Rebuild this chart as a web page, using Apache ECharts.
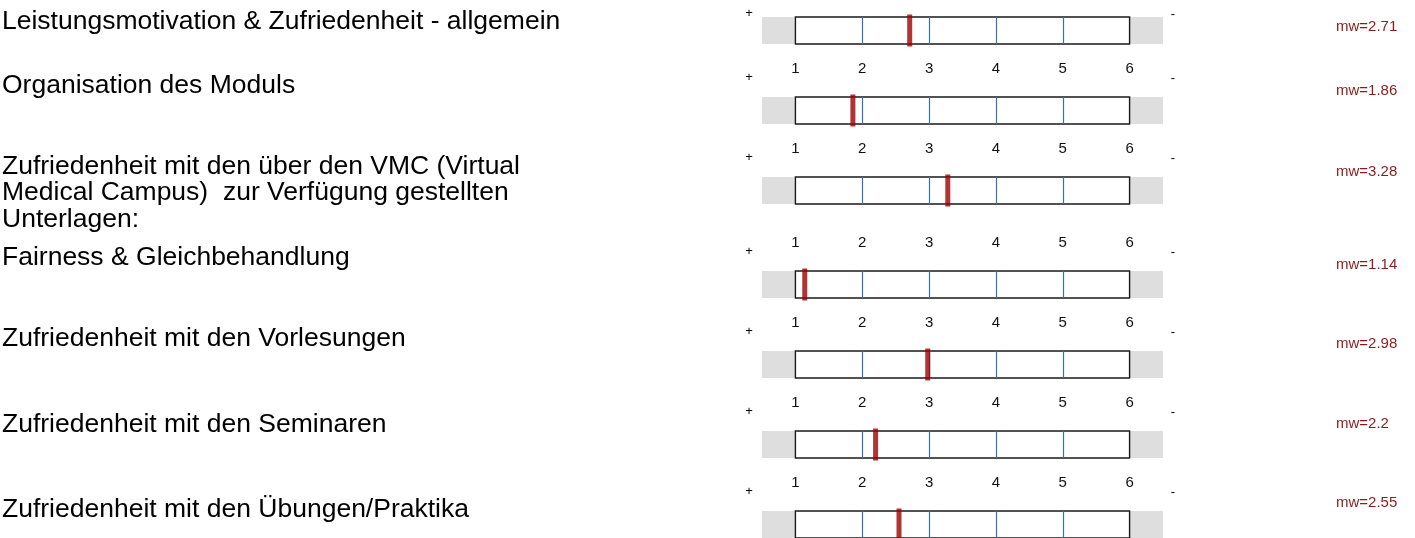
<!DOCTYPE html>
<html>
<head>
<meta charset="utf-8">
<script src="https://cdn.jsdelivr.net/npm/echarts@6/dist/echarts.min.js"></script>
<style>
  html, body { margin: 0; padding: 0; background: #fff; }
  #chart { width: 1415px; height: 538px; }
</style>
</head>
<body>
<div id="chart"></div>
<script>
// Fragen (linke Spalte)
var labels = [
    'Leistungsmotivation & Zufriedenheit - allgemein',
    'Organisation des Moduls',
    'Zufriedenheit mit den über den VMC (Virtual\nMedical Campus)  zur Verfügung gestellten\nUnterlagen:',
    'Fairness & Gleichbehandlung',
    'Zufriedenheit mit den Vorlesungen',
    'Zufriedenheit mit den Seminaren',
    'Zufriedenheit mit den Übungen/Praktika'
];
// Mittelwerte
var means = [2.71, 1.86, 3.28, 1.14, 2.98, 2.2, 2.55];
// Skala
var scaleTicks = [1, 2, 3, 4, 5, 6];
var innerLines = [2, 3, 4, 5];
var poleLeft = '+';
var poleRight = '-';

// Layout
var FONT = '"Liberation Sans", Arial, sans-serif';
var boxTops = [17, 97, 177, 271, 351, 431, 511];
var boxH = 27;
var gridLeft = 762, gridWidth = 401;
var labelMid = [21, 85, 166, 257, 338, 424, 509];
var mwY = [27, 91, 172, 265, 344, 424, 503];

var chart = echarts.init(document.getElementById('chart'));

var grids = [], xAxes = [], yAxes = [], series = [], graphics = [];

means.forEach(function (m, i) {
    grids.push({
        left: gridLeft, width: gridWidth, top: boxTops[i], height: boxH,
        show: true, backgroundColor: '#dedede', borderWidth: 0
    });
    xAxes.push({
        type: 'value', gridIndex: i, min: 0.5, max: 6.5, position: 'top',
        axisLine: {show: false}, axisTick: {show: false}, splitLine: {show: false},
        axisLabel: {
            show: i > 0, customValues: scaleTicks, margin: 21,
            fontSize: 15, color: '#111', fontFamily: FONT
        }
    });
    yAxes.push({type: 'value', gridIndex: i, min: 0, max: 1, show: false});

    // weisse Box + blaue Linien
    series.push({
        type: 'line', xAxisIndex: i, yAxisIndex: i, data: [], z: 1, silent: true,
        markArea: {
            silent: true,
            itemStyle: {color: '#fff', borderColor: '#1a1a1a', borderWidth: 1.4},
            data: [[{xAxis: scaleTicks[0]}, {xAxis: scaleTicks[scaleTicks.length - 1]}]]
        },
        markLine: {
            silent: true, symbol: 'none', animation: false,
            label: {show: false},
            lineStyle: {color: '#3470b4', width: 1.2, type: 'solid'},
            data: innerLines.map(function (v) { return {xAxis: v}; })
        }
    });
    // Mittelwert-Marker
    series.push({
        type: 'scatter', xAxisIndex: i, yAxisIndex: i, z: 5, clip: false, silent: true,
        symbol: 'rect', symbolSize: [5, 32],
        itemStyle: {color: '#9e0000'},
        data: [[m, 0.5]]
    });

    graphics.push({
        type: 'text', left: 2, top: labelMid[i] - 13.25,
        style: {text: labels[i], font: '26.5px ' + FONT, fill: '#000', lineHeight: 26.5}
    });
    graphics.push({
        type: 'text', x: gridLeft - 13, y: boxTops[i] - (i === 0 ? 4 : 20),
        style: {text: poleLeft, font: '13px ' + FONT, fill: '#000', align: 'center', verticalAlign: 'middle'}
    });
    graphics.push({
        type: 'text', x: gridLeft + gridWidth + 10, y: boxTops[i] - (i === 0 ? 3 : 19),
        style: {text: poleRight, font: '13px ' + FONT, fill: '#000', align: 'center', verticalAlign: 'middle'}
    });
    graphics.push({
        type: 'text', x: 1336, y: mwY[i],
        style: {text: 'mw=' + m, font: '15px ' + FONT, fill: '#8c1c1c', verticalAlign: 'middle'}
    });
});

chart.setOption({
    animation: false,
    grid: grids,
    xAxis: xAxes,
    yAxis: yAxes,
    series: series,
    graphic: graphics
});
</script>
</body>
</html>
